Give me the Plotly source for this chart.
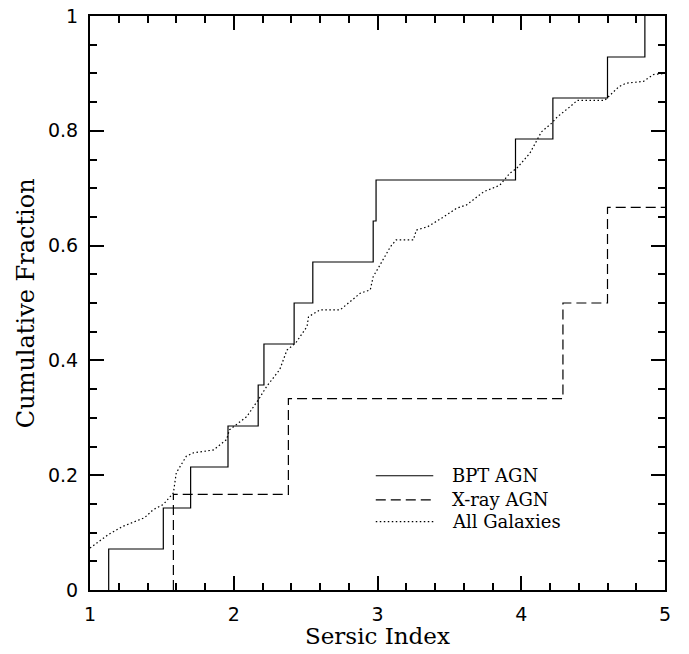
import plotly.graph_objects as go

# ---------------- data ----------------
# BPT AGN: step positions (Sersic index) and cumulative levels (14 objects)
bpt_x = [1.13, 1.51, 1.70, 1.96, 2.17, 2.21, 2.42, 2.55, 2.97, 2.99, 3.96, 4.22, 4.60, 4.86]
bpt_y = [1/14, 2/14, 3/14, 4/14, 5/14, 6/14, 7/14, 8/14, 9/14, 10/14, 11/14, 12/14, 13/14, 14/14]

# X-ray AGN: step positions and cumulative levels (6 objects, 4 inside range)
xray_x = [1.58, 2.38, 4.29, 4.60]
xray_y = [1/6, 2/6, 3/6, 4/6]

# All galaxies: cumulative curve
all_x = [1.00, 1.13, 1.23, 1.38, 1.44, 1.51, 1.58, 1.60, 1.67, 1.72, 1.86, 1.95, 1.97,
         2.09, 2.17, 2.23, 2.32, 2.37, 2.43, 2.51, 2.52, 2.60, 2.74, 2.88, 2.95, 2.97,
         3.01, 3.09, 3.13, 3.25, 3.27, 3.35, 3.46, 3.55, 3.62, 3.69, 3.74, 3.85, 3.92,
         3.97, 4.06, 4.11, 4.14, 4.21, 4.25, 4.34, 4.39, 4.58, 4.63, 4.68, 4.73, 4.85,
         4.92, 5.00]
all_y = [0.073, 0.097, 0.111, 0.126, 0.140, 0.149, 0.169, 0.204, 0.233, 0.239, 0.244, 0.262, 0.279,
         0.302, 0.331, 0.355, 0.384, 0.418, 0.430, 0.459, 0.476, 0.488, 0.488, 0.517, 0.523, 0.546,
         0.563, 0.598, 0.610, 0.610, 0.627, 0.633, 0.650, 0.665, 0.671, 0.685, 0.694, 0.705, 0.726,
         0.735, 0.761, 0.784, 0.798, 0.813, 0.824, 0.842, 0.853, 0.853, 0.865, 0.877, 0.883, 0.886,
         0.898, 0.900]

x_range = [1, 5]
y_range = [0, 1]
x_ticks = [1, 2, 3, 4, 5]
y_ticks = [0, 0.2, 0.4, 0.6, 0.8, 1]
y_tick_labels = ["0", "0.2", "0.4", "0.6", "0.8", "1"]

legend_names = ["BPT AGN", "X-ray AGN", "All Galaxies"]
legend_dash = ["solid", "10px,5px", "1.5px,2.5px"]

# ---------------- figure ----------------
fig = go.Figure()

fig.add_trace(go.Scatter(
    x=[bpt_x[0]] + bpt_x, y=[0] + bpt_y, mode="lines", line_shape="hv",
    line=dict(color="black", width=1.2), name=legend_names[0], showlegend=False))

fig.add_trace(go.Scatter(
    x=[xray_x[0]] + xray_x + [x_range[1]], y=[0] + xray_y + [xray_y[-1]],
    mode="lines", line_shape="hv",
    line=dict(color="black", width=1.2, dash=legend_dash[1]), name=legend_names[1], showlegend=False))

fig.add_trace(go.Scatter(
    x=all_x, y=all_y, mode="lines",
    line=dict(color="black", width=1.2, dash=legend_dash[2]), name=legend_names[2], showlegend=False))

# manual legend (line samples + labels) in paper coordinates
leg_y = [0.199, 0.157, 0.119]
for name, dash, yy in zip(legend_names, legend_dash, leg_y):
    fig.add_shape(type="line", xref="paper", yref="paper", x0=0.497, x1=0.597, y0=yy, y1=yy,
                  line=dict(color="black", width=1.2, dash=dash))
    fig.add_annotation(xref="paper", yref="paper", x=0.626, y=yy, text=name, showarrow=False,
                       xanchor="left", yanchor="middle",
                       font=dict(family="DejaVu Serif", size=18, color="black"))

# axis titles
fig.add_annotation(xref="paper", yref="paper", x=0.5, y=-0.081, text="Sersic Index",
                   showarrow=False, xanchor="center", yanchor="middle",
                   font=dict(family="DejaVu Serif", size=23, color="black"))
fig.add_annotation(xref="paper", yref="paper", x=-0.111, y=0.5, text="Cumulative Fraction",
                   showarrow=False, xanchor="center", yanchor="middle", textangle=-90,
                   font=dict(family="DejaVu Serif", size=24, color="black"))

axis_common = dict(
    showline=True, linewidth=2, linecolor="black", mirror="allticks",
    ticks="inside", ticklen=14, tickwidth=2, tickcolor="black",
    showgrid=False, zeroline=False,
    tickfont=dict(family="DejaVu Sans", size=19, color="black"),
)

fig.update_xaxes(range=x_range, tickvals=x_ticks, ticktext=[str(v) for v in x_ticks],
                 minor=dict(dtick=0.2, ticks="inside", ticklen=7, tickwidth=2, tickcolor="black",
                            showgrid=False),
                 ticklabelstandoff=6, **axis_common)
fig.update_yaxes(range=y_range, tickvals=y_ticks, ticktext=y_tick_labels,
                 minor=dict(dtick=0.05, ticks="inside", ticklen=7, tickwidth=2, tickcolor="black",
                            showgrid=False),
                 ticklabelstandoff=6, **axis_common)

fig.update_layout(
    width=689, height=654,
    margin=dict(l=90, r=24, t=16, b=64, autoexpand=False),
    plot_bgcolor="white", paper_bgcolor="white",
    showlegend=False,
)

fig.write_html("out.html", config={"displayModeBar": False},
               post_script="document.body.style.margin='0';")
